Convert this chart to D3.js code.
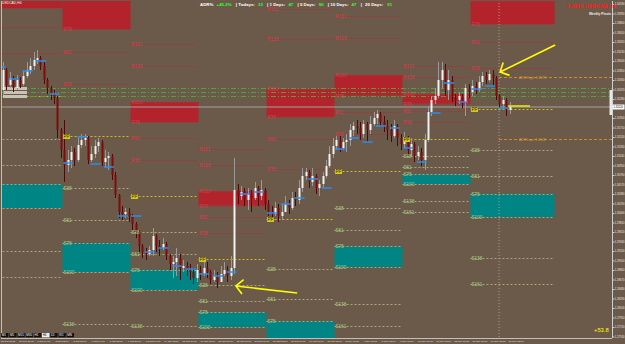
<!DOCTYPE html>
<html>
<head>
<meta charset="utf-8">
<script src="https://cdn.jsdelivr.net/npm/d3@7/dist/d3.min.js"></script>
<style>
  body { margin: 0; background: #6b5a49; }
  svg { display: block; font-family: "Liberation Sans", Arial, sans-serif; }
</style>
</head>
<body>
<svg id="chart" width="625" height="344"></svg>
<script>
// ---- USDCAD H4 candles (bar index 0..149) ----
var firstOpen = 1.3246;
var closes = [
  1.3286,1.3256,1.3270,1.3250,1.3266,1.3258,1.3274,1.3286,1.3294,1.3306,
  1.3310,1.3294,1.3266,1.3250,1.3238,1.3230,1.3166,1.3126,1.3096,1.3106,
  1.3122,1.3106,1.3136,1.3146,1.3150,1.3106,1.3118,1.3134,1.3142,1.3102,
  1.3110,1.3114,1.3076,1.3036,1.3002,1.2998,1.3002,1.2994,1.2978,1.2962,
  1.2934,1.2922,1.2918,1.2926,1.2954,1.2934,1.2930,1.2938,1.2914,1.2898,
  1.2902,1.2910,1.2890,1.2894,1.2886,1.2882,1.2870,1.2886,1.2878,1.2890,
  1.2882,1.2866,1.2874,1.2862,1.2878,1.2886,1.2874,1.2890,1.3046,1.3034,
  1.3042,1.3026,1.3038,1.3030,1.3050,1.3034,1.3046,1.3018,1.3002,1.2998,
  1.3010,1.2994,1.3002,1.3018,1.3010,1.3030,1.3026,1.3050,1.3074,1.3082,
  1.3062,1.3074,1.3050,1.3058,1.3074,1.3094,1.3118,1.3134,1.3146,1.3130,
  1.3142,1.3146,1.3166,1.3174,1.3170,1.3158,1.3178,1.3166,1.3178,1.3190,
  1.3198,1.3182,1.3174,1.3166,1.3154,1.3174,1.3150,1.3138,1.3146,1.3126,
  1.3138,1.3114,1.3122,1.3106,1.3146,1.3202,1.3226,1.3234,1.3266,1.3286,
  1.3246,1.3266,1.3230,1.3226,1.3234,1.3222,1.3250,1.3242,1.3254,1.3246,
  1.3262,1.3274,1.3266,1.3278,1.3270,1.3234,1.3218,1.3226,1.3206,1.3212
];
var highs = [
  1.3302,1.3290,1.3282,1.3274,1.3276,1.3272,1.3286,1.3302,1.3310,1.3322,
  1.3326,1.3314,1.3302,1.3270,1.3254,1.3246,1.3234,1.3170,1.3186,1.3126,
  1.3134,1.3130,1.3150,1.3158,1.3158,1.3154,1.3134,1.3146,1.3150,1.3146,
  1.3126,1.3122,1.3118,1.3082,1.3038,1.3014,1.3010,1.3010,1.2998,1.2982,
  1.2966,1.2938,1.2930,1.2934,1.2970,1.2958,1.2946,1.2950,1.2942,1.2918,
  1.2914,1.2930,1.2918,1.2906,1.2902,1.2898,1.2890,1.2898,1.2894,1.2902,
  1.2902,1.2886,1.2886,1.2882,1.2894,1.2902,1.2894,1.2914,1.3110,1.3058,
  1.3054,1.3050,1.3050,1.3046,1.3062,1.3054,1.3066,1.3050,1.3026,1.3014,
  1.3022,1.3018,1.3018,1.3034,1.3026,1.3042,1.3042,1.3066,1.3090,1.3090,
  1.3086,1.3090,1.3078,1.3066,1.3082,1.3106,1.3134,1.3150,1.3154,1.3154,
  1.3150,1.3158,1.3178,1.3182,1.3186,1.3182,1.3186,1.3182,1.3194,1.3202,
  1.3206,1.3202,1.3194,1.3186,1.3178,1.3186,1.3178,1.3158,1.3162,1.3154,
  1.3150,1.3142,1.3134,1.3130,1.3158,1.3214,1.3234,1.3250,1.3302,1.3302,
  1.3298,1.3286,1.3274,1.3238,1.3242,1.3238,1.3258,1.3258,1.3266,1.3262,
  1.3274,1.3282,1.3282,1.3286,1.3286,1.3274,1.3238,1.3234,1.3230,1.3222
];
var lows = [
  1.3236,1.3246,1.3250,1.3242,1.3246,1.3250,1.3254,1.3270,1.3278,1.3286,
  1.3298,1.3286,1.3258,1.3238,1.3226,1.3218,1.3150,1.3110,1.3062,1.3082,
  1.3090,1.3094,1.3102,1.3130,1.3134,1.3098,1.3102,1.3110,1.3122,1.3094,
  1.3090,1.3086,1.3066,1.3030,1.2990,1.2986,1.2990,1.2982,1.2966,1.2950,
  1.2922,1.2910,1.2906,1.2914,1.2914,1.2922,1.2914,1.2926,1.2906,1.2886,
  1.2870,1.2874,1.2866,1.2882,1.2874,1.2866,1.2858,1.2862,1.2866,1.2874,
  1.2870,1.2858,1.2862,1.2850,1.2862,1.2874,1.2862,1.2866,1.2878,1.3018,
  1.3026,1.3014,1.3006,1.3002,1.3026,1.3014,1.3026,1.3006,1.2994,1.2986,
  1.2994,1.2982,1.2986,1.3002,1.2998,1.3006,1.3014,1.3018,1.3042,1.3066,
  1.3050,1.3054,1.3038,1.3034,1.3050,1.3070,1.3090,1.3110,1.3126,1.3122,
  1.3126,1.3122,1.3134,1.3154,1.3158,1.3146,1.3150,1.3142,1.3158,1.3174,
  1.3178,1.3174,1.3162,1.3146,1.3142,1.3150,1.3134,1.3126,1.3130,1.3114,
  1.3114,1.3102,1.3106,1.3094,1.3086,1.3142,1.3194,1.3218,1.3230,1.3250,
  1.3234,1.3226,1.3222,1.3214,1.3218,1.3210,1.3194,1.3230,1.3234,1.3238,
  1.3242,1.3254,1.3258,1.3262,1.3254,1.3226,1.3210,1.3206,1.3194,1.3198
];

// daily open markers (blue), one per day, 4 bars per day
var dayOpen = [1.3292,1.3268,1.3284,1.3304,1.3238,1.3100,1.3152,1.3098,1.3092,1.2994,
  1.2994,1.2922,1.2930,1.2894,1.2888,1.2878,1.2874,1.2882,1.3038,1.3042,
  1.3000,1.3018,1.3030,1.3068,1.3050,1.3128,1.3150,1.3142,1.3174,1.3170,
  1.3130,1.3102,1.3200,1.3260,1.3222,1.3248,1.3254,1.3210];

// weekly fibonacci pivots
var weekStart = [-2.5, 17.5, 37.5, 57.5, 77.5, 97.5, 117.5, 137.5];
var weekEnd   = [17.5, 37.5, 57.5, 77.5, 97.5, 117.5, 137.5, 162.2];
var weekPivot = [1.3234, 1.3154, 1.3034, 1.2908, 1.2988, 1.3084, 1.3148, 1.3208];
var weekRange = [0.0224, 0.0272, 0.0188, 0.0136, 0.0260, 0.0192, 0.0090, 0.0216];
var levelRatios = [1.618, 1.382, 1, 0.786, 0.618, 0.382, 0, -0.382, -0.618, -0.786, -1, -1.382, -1.618];
var levelNames  = ["R161","R138","R100","R78","R61","R38","PP","S38","S61","S78","S100","S138","S161"];

var greenLevels = [1.3250, 1.3242, 1.3234];
var bid = 1.3212;
var adrHigh = 1.3272, adrLow = 1.3148;
var todayBar = 145.9;

var priceTicks = [1.3418,1.3399,1.3380,1.3361,1.3342,1.3323,1.3304,1.3285,1.3266,1.3247,
  1.3228,1.3190,1.3171,1.3152,1.3133,1.3114,1.3095,1.3076,1.3057,1.3038,
  1.3019,1.3000,1.2981,1.2962,1.2943,1.2924,1.2905,1.2886,1.2867,1.2848,
  1.2829,1.2810,1.2791,1.2772,1.2753];
var timeLabels = ["28 Sep 2015","29 Sep 20:00","1 Oct 04:00","2 Oct 12:00","5 Oct 20:00",
  "7 Oct 04:00","8 Oct 12:00","9 Oct 20:00","13 Oct 04:00","14 Oct 12:00","15 Oct 16:00",
  "19 Oct 00:00","20 Oct 08:00","21 Oct 16:00","23 Oct 00:00","26 Oct 08:00","27 Oct 16:00",
  "29 Oct 00:00","30 Oct 08:00","2 Nov 16:00","4 Nov 00:00","5 Nov 08:00","6 Nov 16:00",
  "10 Nov 00:00","11 Nov 08:00","12 Nov 16:00","13 Nov 20:00","17 Nov 08:00","18 Nov 12:00"];

var W = 625, H = 344;
var plot = {l: 1, t: 1, r: 612, b: 338};
var svg = d3.select("#chart");
var x = d3.scaleLinear().domain([0, 149]).range([3, 509.6]);
var y = d3.scaleLinear().domain([1.2738, 1.3426]).range([344, 0]);

svg.append("rect").attr("width", W).attr("height", H).attr("fill", "#6b5a49");
svg.append("clipPath").attr("id", "clip").append("rect")
  .attr("x", plot.l).attr("y", plot.t).attr("width", plot.r - plot.l).attr("height", plot.b - plot.t);
var g = svg.append("g").attr("clip-path", "url(#clip)");
var labels = svg.append("g");

// pivot zones + levels
weekPivot.forEach(function (pp, k) {
  var lv = function (r) { return pp + r * weekRange[k]; };
  var x0 = x(weekStart[k]), x1 = x(weekEnd[k]);
  g.append("rect").attr("x", x0).attr("width", x1 - x0)
    .attr("y", y(lv(1))).attr("height", y(lv(0.786)) - y(lv(1))).attr("fill", "#b3232b");
  g.append("rect").attr("x", x0).attr("width", x1 - x0)
    .attr("y", y(lv(-0.786))).attr("height", y(lv(-1)) - y(lv(-0.786))).attr("fill", "#008585");
  levelRatios.forEach(function (r, j) {
    var col = r > 0 ? "#a8313c" : (r < 0 ? "#a7a87a" : "#cdbd18");
    var yy = Math.round(y(lv(r))) + 0.5;
    g.append("line").attr("x1", x0).attr("x2", x1).attr("y1", yy).attr("y2", yy)
      .attr("stroke", col).attr("stroke-width", 1).attr("stroke-dasharray", "2,2");
    if (x0 < plot.l || yy < plot.t + 3 || yy > plot.b - 3) return;
    if (r === 0) {
      labels.append("rect").attr("x", x0 + 0.5).attr("y", yy - 2.5)
        .attr("width", 7).attr("height", 5).attr("fill", "#d8c81a");
    }
    labels.append("text").attr("x", x0 + 1).attr("y", yy + 1.8).attr("font-size", 4.6)
      .attr("fill", r > 0 ? "#cc4250" : (r < 0 ? "#a9d08e" : "#2a2400")).text(levelNames[j]);
  });
});

// vertical separator for today
g.append("line").attr("x1", x(todayBar)).attr("x2", x(todayBar)).attr("y1", 0).attr("y2", H)
  .attr("stroke", "#a9a196").attr("stroke-dasharray", "1,2");

// green lines across
greenLevels.forEach(function (p) {
  var yy = Math.round(y(p)) + 0.5;
  g.append("line").attr("x1", plot.l).attr("x2", plot.r).attr("y1", yy).attr("y2", yy)
    .attr("stroke", "#4fa33a").attr("stroke-dasharray", "5,2,1,2");
  g.append("rect").attr("x", 3).attr("y", yy - 1.5).attr("width", 24).attr("height", 3)
    .attr("fill", "#c9c2b6");
});

// bid line
g.append("line").attr("x1", plot.l).attr("x2", plot.r).attr("y1", y(bid)).attr("y2", y(bid))
  .attr("stroke", "#a3a3a3").attr("stroke-width", 1);

// ADR lines
[[adrHigh, "ADR High: " + adrHigh.toFixed(4)], [adrLow, "ADR Low: " + adrLow.toFixed(4)]].forEach(function (a) {
  var yy = Math.round(y(a[0])) + 0.5;
  g.append("line").attr("x1", x(todayBar)).attr("x2", plot.r).attr("y1", yy).attr("y2", yy)
    .attr("stroke", "#cf8b2b").attr("stroke-dasharray", "3,2");
  labels.append("text").attr("x", 519).attr("y", yy + 1.3).attr("font-size", 3.4).attr("fill", "#d99a3a")
    .text(a[1]);
});

// candles
var bars = closes.map(function (c, i) {
  var o = i === 0 ? firstOpen : closes[i - 1];
  return {i: i, o: o, c: c, h: Math.max(highs[i], o, c), l: Math.min(lows[i], o, c)};
});
var cg = g.append("g");
cg.selectAll("line.wick").data(bars).join("line").attr("class", "wick")
  .attr("x1", function (d) { return Math.round(x(d.i)) + 0.5; })
  .attr("x2", function (d) { return Math.round(x(d.i)) + 0.5; })
  .attr("y1", function (d) { return y(d.h); }).attr("y2", function (d) { return y(d.l); })
  .attr("stroke", function (d) { return d.c >= d.o ? "#9a9a9a" : "#4a0a0a"; });
cg.selectAll("rect.body").data(bars).join("rect").attr("class", "body")
  .attr("x", function (d) { return Math.round(x(d.i)) - 0.5; }).attr("width", 2)
  .attr("y", function (d) { return y(Math.max(d.o, d.c)); })
  .attr("height", function (d) { return Math.max(1, Math.abs(y(d.o) - y(d.c))); })
  .attr("fill", function (d) { return d.c >= d.o ? "#f0f0f0" : "#7d0c0c"; });

// daily open markers
g.selectAll("line.day").data(dayOpen).join("line").attr("class", "day")
  .attr("x1", function (d, i) { return x(4 * i - 2) - 1; })
  .attr("x2", function (d, i) { return x(4 * i + 0.7); })
  .attr("y1", function (d) { return y(d); }).attr("y2", function (d) { return y(d); })
  .attr("stroke", "#2b8df0").attr("stroke-width", 1.5);

// yellow annotations
function arrow(b0, p0, b1, p1) {
  var X0 = x(b0), Y0 = y(p0), X1 = x(b1), Y1 = y(p1);
  var ang = Math.atan2(Y0 - Y1, X0 - X1), L = 10;
  var path = "M" + X0 + "," + Y0 + "L" + X1 + "," + Y1 +
    "M" + (X1 + L * Math.cos(ang - 0.8)) + "," + (Y1 + L * Math.sin(ang - 0.8)) + "L" + X1 + "," + Y1 +
    "L" + (X1 + L * Math.cos(ang + 0.8)) + "," + (Y1 + L * Math.sin(ang + 0.8));
  g.append("path").attr("d", path).attr("fill", "none").attr("stroke", "#ffff00").attr("stroke-width", 1.6);
}
arrow(162.4, 1.3336, 146.2, 1.3282);
arrow(86.5, 1.2840, 68.5, 1.2854);
g.append("line").attr("x1", x(148.6)).attr("x2", x(155)).attr("y1", y(1.3214)).attr("y2", y(1.3214))
  .attr("stroke", "#ffff00").attr("stroke-width", 1.3);

// frame and price axis
svg.append("line").attr("x1", 1.5).attr("x2", 1.5).attr("y1", 1).attr("y2", plot.b).attr("stroke", "#bfbfbf");
svg.append("line").attr("x1", 1).attr("x2", plot.r).attr("y1", plot.b + 0.5).attr("y2", plot.b + 0.5).attr("stroke", "#bfbfbf");
var axis = d3.axisRight(y).tickValues(priceTicks).tickSize(2).tickFormat(d3.format(".5f"));
var ag = svg.append("g").attr("transform", "translate(" + (plot.r + 0.5) + ",0)").call(axis);
ag.select(".domain").attr("stroke", "#cfcfcf").attr("d", "M0,1V" + plot.b);
ag.selectAll(".tick line").attr("stroke", "#cfcfcf");
ag.selectAll(".tick text").attr("x", 2.3).attr("font-size", 2.7).attr("fill", "#e6e6e6")
  .attr("font-family", "Liberation Sans");

svg.append("rect").attr("x", 609.5).attr("y", 90).attr("width", 2.5).attr("height", 25).attr("fill", "#e8e8e8");
svg.append("rect").attr("x", 612.5).attr("y", y(bid) - 2.5).attr("width", 12).attr("height", 5).attr("fill", "#ffffff");
svg.append("text").attr("x", 613.4).attr("y", y(bid) + 1).attr("font-size", 2.7).attr("fill", "#000")
  .text(bid.toFixed(5));

// time axis labels
svg.selectAll("text.time").data(timeLabels).join("text").attr("class", "time")
  .attr("x", function (d, k) { return x(k * 16 / 3) - 2; }).attr("y", 342.3)
  .attr("font-size", 2.5).attr("fill", "#e6e6e6").text(function (d) { return d; });

// toolbar buttons
var buttons = ["M1","M5","M15","M30","H1","H4","D1","W1","MN"];
buttons.forEach(function (b, k) {
  svg.append("rect").attr("x", 1 + k * 8.2).attr("y", 333).attr("width", 7.4).attr("height", 4.3)
    .attr("fill", b === "H4" ? "#f0f0f0" : "#111");
  svg.append("text").attr("x", 1.7 + k * 8.2).attr("y", 336.4).attr("font-size", 3)
    .attr("fill", b === "H4" ? "#000" : "#fff").text(b);
});

// header texts, laid out left to right
var header = [
  ["ADR%", "#ffffff"], ["+45.2%", "#33ff33"], ["| Todays:", "#ffffff"], ["33", "#33ff33"],
  ["| 1 Days:", "#ffffff"], ["47", "#33ff33"], ["| 5 Days:", "#ffffff"], ["90", "#33ff33"],
  ["| 10 Days:", "#ffffff"], ["47", "#33ff33"], ["|", "#ffffff"], ["20 Days:", "#ffffff"], ["91", "#33ff33"]
];
var hx = 200;
header.forEach(function (h, k) {
  var t = svg.append("text").attr("x", hx).attr("y", 6).attr("font-size", 4.4).attr("font-weight", "bold")
    .attr("fill", h[1]).text(h[0]);
  hx += t.node().getComputedTextLength() + (k % 2 === 0 ? 3.2 : 4.2);
});
svg.append("text").attr("x", 2).attr("y", 4.3).attr("font-size", 3.4).attr("fill", "#f0f0f0")
  .text("USDCAD,H4");
svg.append("text").attr("x", 567).attr("y", 8).attr("font-size", 5.3).attr("font-weight", "bold")
  .attr("fill", "#ff1a1a").text("1.3212 USDCAD H4");
svg.append("text").attr("x", 589).attr("y", 14.5).attr("font-size", 3.3).attr("font-weight", "bold")
  .attr("fill", "#eeeeee").text("Weekly Pivots");
svg.append("text").attr("x", 594).attr("y", 332).attr("font-size", 5.8).attr("fill", "#ffff00")
  .text("+53.8");
</script>
</body>
</html>
